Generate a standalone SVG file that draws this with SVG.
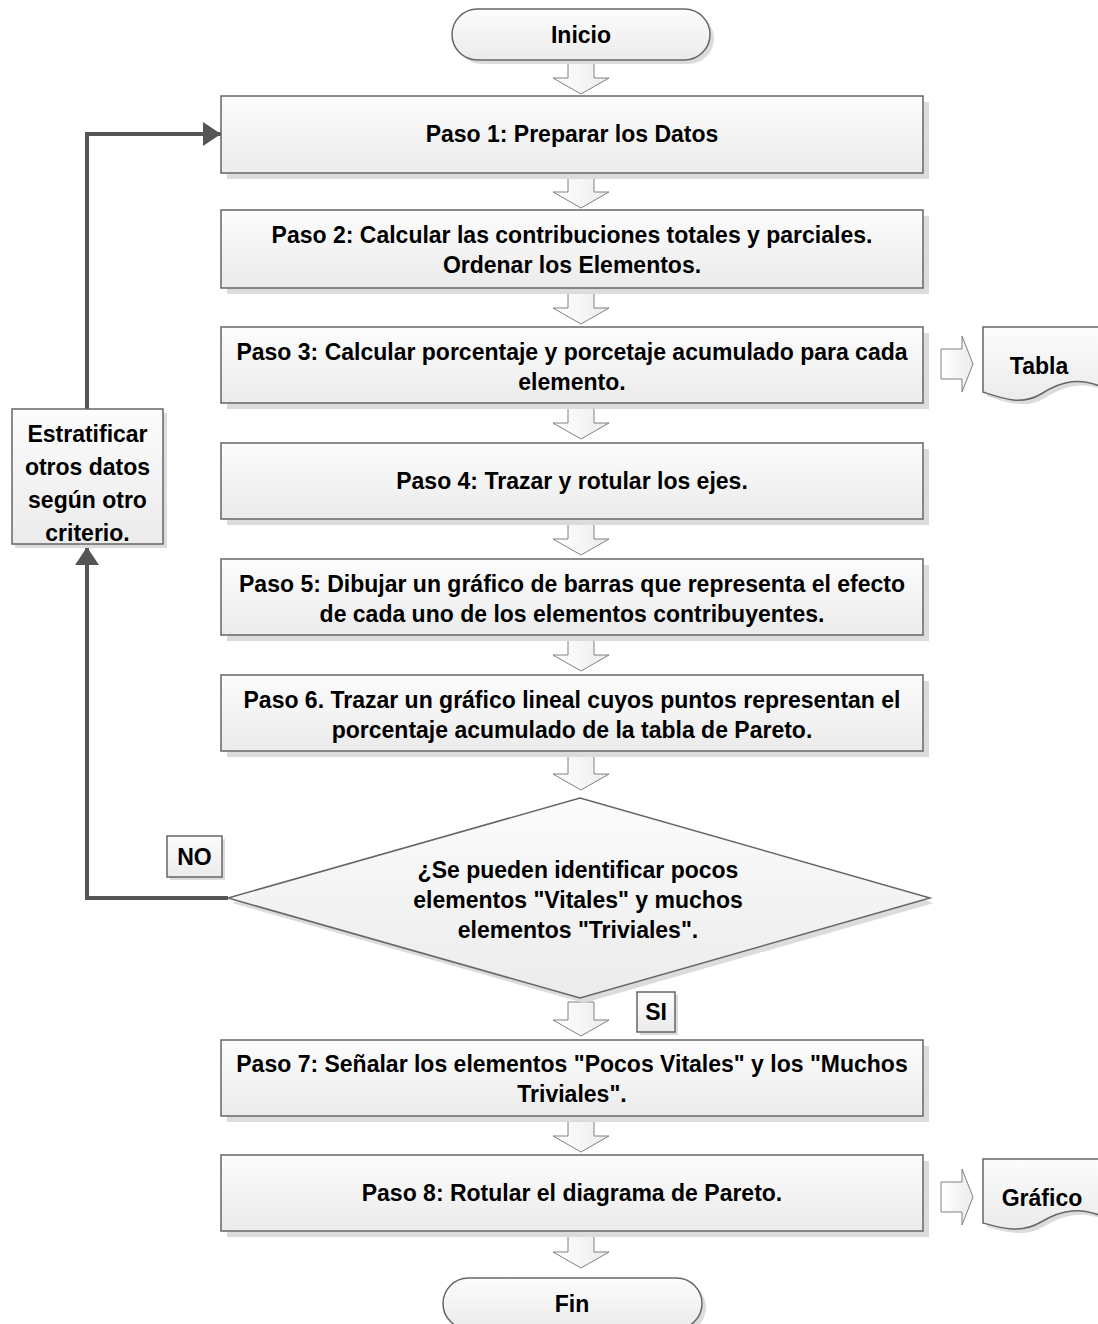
<svg xmlns="http://www.w3.org/2000/svg" width="1098" height="1324" viewBox="0 0 1098 1324">
  <defs>
    <linearGradient id="boxFill" x1="0" y1="0" x2="0" y2="1">
      <stop offset="0" stop-color="#fcfcfc"/>
      <stop offset="1" stop-color="#ebebeb"/>
    </linearGradient>
    <linearGradient id="arrowFill" x1="0" y1="0" x2="1" y2="0">
      <stop offset="0" stop-color="#ffffff"/>
      <stop offset="1" stop-color="#ececec"/>
    </linearGradient>
    <marker id="head" markerUnits="userSpaceOnUse" markerWidth="20" markerHeight="26" refX="18" refY="12" orient="auto">
      <path d="M0,0 L18,12 L0,24 Z" fill="#555"/>
    </marker>
    <g id="downArrow">
      <path d="M-13,0 H13 V18 H28 L0,34 L-28,18 H-13 Z"/>
    </g>
    <g id="rightArrow">
      <path d="M0,-15 H21 V-28 L32,0 L21,28 V15 H0 Z"/>
    </g>
  </defs>
  <style>
    .box { fill: url(#boxFill); stroke: #666; stroke-width: 1.5; }
    .shadow { fill: #dcdcdc; }
    .blk { fill: url(#arrowFill); stroke: #808080; stroke-width: 1; }
    .t { font-family: "Liberation Sans", Arial, sans-serif; font-weight: bold; font-size: 23px; fill: #000; text-anchor: middle; }
    .link { fill: none; stroke: #555; stroke-width: 4; }
  </style>

  <rect width="1098" height="1324" fill="#fff"/>

  <!-- loop-back connector -->
  <g id="connectors">
    <path class="link" d="M228,898 H87 V547" marker-end="url(#head)"/>
    <path class="link" d="M87,409 V134 H221" marker-end="url(#head)"/>
  </g>

  <!-- block arrows between steps -->
  <g id="flow-arrows" class="blk">
    <use href="#downArrow" x="581" y="60"/>
    <use href="#downArrow" x="581" y="174"/>
    <use href="#downArrow" x="581" y="290"/>
    <use href="#downArrow" x="581" y="405"/>
    <use href="#downArrow" x="581" y="521"/>
    <use href="#downArrow" x="581" y="637"/>
    <use href="#downArrow" x="581" y="756"/>
    <use href="#downArrow" x="581" y="1002"/>
    <use href="#downArrow" x="581" y="1118"/>
    <use href="#downArrow" x="581" y="1234"/>
    <use href="#rightArrow" x="941" y="364"/>
    <use href="#rightArrow" x="941" y="1197"/>
  </g>

  <g id="inicio">
    <rect class="shadow" x="456" y="13" width="258" height="51" rx="25.5"/>
    <rect class="box" x="452" y="9" width="258" height="51" rx="25.5"/>
    <text class="t" x="581" y="43">Inicio</text>
  </g>

  <g id="paso1">
    <rect class="shadow" x="227" y="102" width="702" height="77"/>
    <rect class="box" x="221" y="96" width="702" height="77"/>
    <text class="t" x="572" y="142">Paso 1: Preparar los Datos</text>
  </g>

  <g id="paso2">
    <rect class="shadow" x="227" y="216" width="702" height="78"/>
    <rect class="box" x="221" y="210" width="702" height="78"/>
    <text class="t" x="572" y="243">Paso 2: Calcular las contribuciones totales y parciales.</text>
    <text class="t" x="572" y="273">Ordenar los Elementos.</text>
  </g>

  <g id="paso3">
    <rect class="shadow" x="227" y="333" width="702" height="76"/>
    <rect class="box" x="221" y="327" width="702" height="76"/>
    <text class="t" x="572" y="360">Paso 3: Calcular porcentaje y porcetaje acumulado para cada</text>
    <text class="t" x="572" y="390">elemento.</text>
  </g>

  <g id="tabla">
    <path class="shadow" d="M987,331 H1110 V393 C1085,380 1065,385 1045,398 C1025,410 1005,402 987,396 Z"/>
    <path class="box" d="M983,327 H1106 V389 C1081,376 1061,381 1041,394 C1021,406 1001,398 983,392 Z"/>
    <text class="t" x="1039" y="374">Tabla</text>
  </g>

  <g id="paso4">
    <rect class="shadow" x="227" y="449" width="702" height="76"/>
    <rect class="box" x="221" y="443" width="702" height="76"/>
    <text class="t" x="572" y="489">Paso 4: Trazar y rotular los ejes.</text>
  </g>

  <g id="paso5">
    <rect class="shadow" x="227" y="565" width="702" height="76"/>
    <rect class="box" x="221" y="559" width="702" height="76"/>
    <text class="t" x="572" y="592">Paso 5: Dibujar un gráfico de barras que representa el efecto</text>
    <text class="t" x="572" y="622">de cada uno de los elementos contribuyentes.</text>
  </g>

  <g id="paso6">
    <rect class="shadow" x="227" y="681" width="702" height="76"/>
    <rect class="box" x="221" y="675" width="702" height="76"/>
    <text class="t" x="572" y="708">Paso 6. Trazar un gráfico lineal cuyos puntos representan el</text>
    <text class="t" x="572" y="738">porcentaje acumulado de la tabla de Pareto.</text>
  </g>

  <g id="decision">
    <polygon class="shadow" points="584,803 934,903 584,1003 232,903"/>
    <polygon class="box" points="580,798 930,898 580,998 228,898"/>
    <text class="t" x="578" y="878">¿Se pueden identificar pocos</text>
    <text class="t" x="578" y="908">elementos "Vitales" y muchos</text>
    <text class="t" x="578" y="938">elementos "Triviales".</text>
  </g>

  <g id="label-no">
    <rect class="shadow" x="170" y="839" width="55" height="41"/>
    <rect class="box" x="167" y="836" width="55" height="41"/>
    <text class="t" x="194.5" y="865">NO</text>
  </g>

  <g id="label-si">
    <rect class="shadow" x="640" y="995" width="38" height="40"/>
    <rect class="box" x="637" y="992" width="38" height="40"/>
    <text class="t" x="656" y="1020">SI</text>
  </g>

  <g id="estratificar">
    <rect class="shadow" x="15" y="413" width="152" height="135"/>
    <rect class="box" x="12" y="409" width="151" height="135"/>
    <text class="t" x="87.5" y="442">Estratificar</text>
    <text class="t" x="87.5" y="475">otros datos</text>
    <text class="t" x="87.5" y="508">según otro</text>
    <text class="t" x="87.5" y="541">criterio.</text>
  </g>

  <g id="paso7">
    <rect class="shadow" x="227" y="1046" width="702" height="76"/>
    <rect class="box" x="221" y="1040" width="702" height="76"/>
    <text class="t" x="572" y="1072">Paso 7: Señalar los elementos "Pocos Vitales" y los "Muchos</text>
    <text class="t" x="572" y="1102">Triviales".</text>
  </g>

  <g id="paso8">
    <rect class="shadow" x="227" y="1161" width="702" height="76"/>
    <rect class="box" x="221" y="1155" width="702" height="76"/>
    <text class="t" x="572" y="1201">Paso 8: Rotular el diagrama de Pareto.</text>
  </g>

  <g id="grafico">
    <path class="shadow" d="M987,1163 H1110 V1222 C1085,1210 1065,1214 1045,1226 C1025,1238 1005,1232 987,1227 Z"/>
    <path class="box" d="M983,1159 H1106 V1218 C1081,1206 1061,1210 1041,1222 C1021,1234 1001,1228 983,1223 Z"/>
    <text class="t" x="1042" y="1206">Gráfico</text>
  </g>

  <g id="fin">
    <rect class="shadow" x="447" y="1282" width="259" height="51" rx="25.5"/>
    <rect class="box" x="443" y="1278" width="259" height="51" rx="25.5"/>
    <text class="t" x="572" y="1312">Fin</text>
  </g>
</svg>
